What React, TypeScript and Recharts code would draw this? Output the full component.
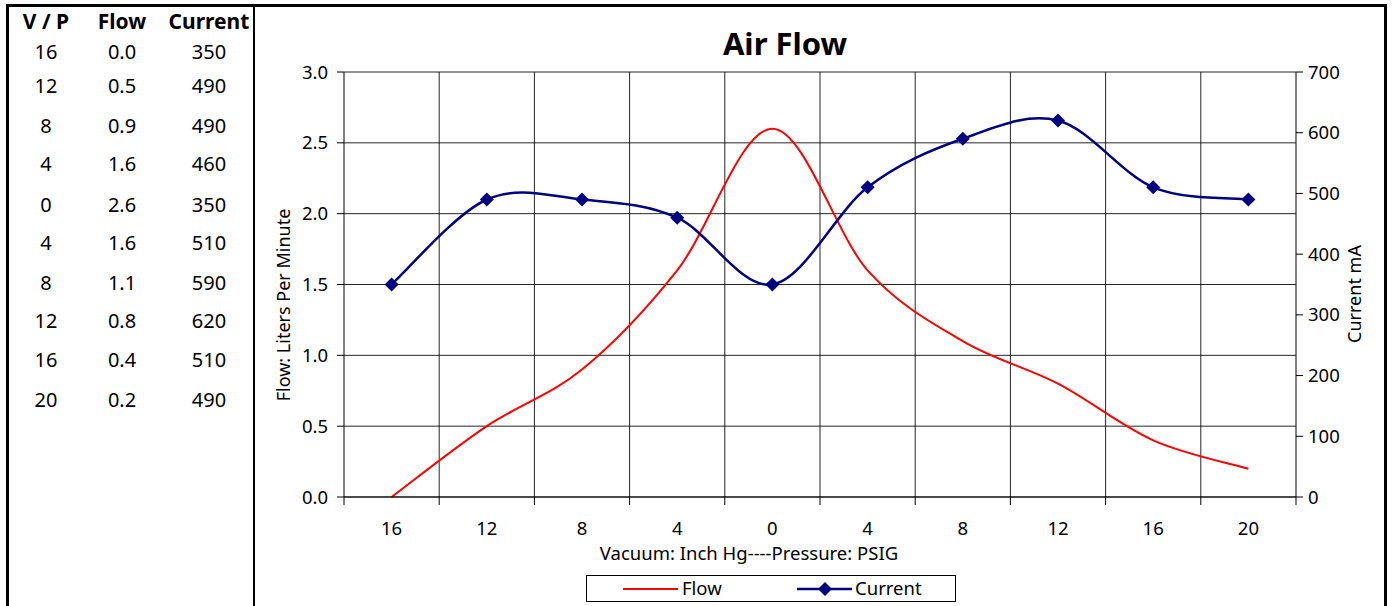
import { ComposedChart, Line, XAxis, YAxis, CartesianGrid } from "recharts";

// readings, left to right: vacuum (inch Hg) then pressure (PSIG)
const vpLabels = ["16", "12", "8", "4", "0", "4", "8", "12", "16", "20"];
const flowValues = [0.0, 0.5, 0.9, 1.6, 2.6, 1.6, 1.1, 0.8, 0.4, 0.2];
const currentValues = [350, 490, 490, 460, 350, 510, 590, 620, 510, 490];

const flowTicks = [0, 0.5, 1, 1.5, 2, 2.5, 3];
const currentTicks = [0, 100, 200, 300, 400, 500, 600, 700];

// row tops for the side table (header first)
const rowTops = [7, 38, 72, 112, 150, 191, 229, 269, 307, 346, 386];

const FONT = "'Noto Sans', 'DejaVu Sans', sans-serif";
const PLOT_LEFT = 344;
const PLOT_RIGHT = 1296;
const PLOT_BOTTOM = 497;
const BAND = (PLOT_RIGHT - PLOT_LEFT) / vpLabels.length;

const data = vpLabels.map((vp, i) => ({
  pos: i,
  vp,
  flow: flowValues[i],
  current: currentValues[i],
}));

/** Excel-style smoothed line (Catmull-Rom through every point). */
function excelSmooth(context: any) {
  let pts: number[][] = [];
  return {
    areaStart() {},
    areaEnd() {},
    lineStart() {
      pts = [];
    },
    lineEnd() {
      const n = pts.length;
      if (!n) return;
      context.moveTo(pts[0][0], pts[0][1]);
      for (let i = 0; i < n - 1; i++) {
        const p0 = pts[Math.max(i - 1, 0)];
        const p1 = pts[i];
        const p2 = pts[i + 1];
        const p3 = pts[Math.min(i + 2, n - 1)];
        context.bezierCurveTo(
          p1[0] + (p2[0] - p0[0]) / 6,
          p1[1] + (p2[1] - p0[1]) / 6,
          p2[0] - (p3[0] - p1[0]) / 6,
          p2[1] - (p3[1] - p1[1]) / 6,
          p2[0],
          p2[1]
        );
      }
    },
    point(x: number, y: number) {
      pts.push([x, y]);
    },
  };
}

function Diamond({ cx, cy, index }: any) {
  if (cx == null || cy == null) return <g key={`d-${index}`} />;
  const r = 7;
  return (
    <polygon
      key={`d-${index}`}
      points={`${cx},${cy - r} ${cx + r},${cy} ${cx},${cy + r} ${cx - r},${cy}`}
      fill="#000080"
    />
  );
}

function XTick({ x, payload, index }: any) {
  const left = x - BAND / 2;
  return (
    <g>
      <line x1={left} x2={left} y1={PLOT_BOTTOM} y2={PLOT_BOTTOM + 8} stroke="#000" />
      {index === vpLabels.length - 1 && (
        <line x1={x + BAND / 2} x2={x + BAND / 2} y1={PLOT_BOTTOM} y2={PLOT_BOTTOM + 8} stroke="#000" />
      )}
      <text x={x} y={PLOT_BOTTOM + 38} textAnchor="middle" fill="#000" fontSize={18.5} fontFamily={FONT}>
        {vpLabels[payload.value]}
      </text>
    </g>
  );
}

export default function App() {
  const cell = (text: string, left: number, bold = false) => (
    <div
      style={{
        position: "absolute",
        left: left - 60,
        width: 120,
        textAlign: "center",
        fontWeight: bold ? 700 : 400,
      }}
    >
      {text}
    </div>
  );

  return (
    <div
      style={{
        position: "absolute",
        left: 0,
        top: 0,
        width: 1392,
        height: 606,
        overflow: "hidden",
        background: "#fff",
        fontFamily: FONT,
        color: "#000",
      }}
    >
      {/* frame */}
      <div style={{ position: "absolute", left: 6, top: 4, width: 1381, height: 620, border: "3px solid #000", boxSizing: "border-box" }} />
      <div style={{ position: "absolute", left: 253, top: 4, width: 2, height: 620, background: "#000" }} />

      {/* side table */}
      <div style={{ position: "absolute", left: 0, top: 0, width: 255, fontSize: 20, lineHeight: "28px" }}>
        <div style={{ position: "absolute", top: rowTops[0], left: 0, width: 255, fontSize: 21 }}>
          {cell("V / P", 46, true)}
          {cell("Flow", 122, true)}
          {cell("Current", 209, true)}
        </div>
        {vpLabels.map((vp, i) => (
          <div key={i} style={{ position: "absolute", top: rowTops[i + 1], left: 0, width: 255 }}>
            {cell(vp, 46)}
            {cell(flowValues[i].toFixed(1), 122)}
            {cell(String(currentValues[i]), 209)}
          </div>
        ))}
      </div>

      {/* title */}
      <div style={{ position: "absolute", left: 635, width: 300, top: 22, textAlign: "center", fontSize: 31, fontWeight: 700 }}>
        Air Flow
      </div>

      <div style={{ position: "absolute", left: 0, top: 0 }}>
        <ComposedChart
          width={1392}
          height={606}
          data={data}
          margin={{ top: 72, right: 36, bottom: 79, left: 284 }}
        >
          <CartesianGrid
            yAxisId="left"
            stroke="#000"
            strokeOpacity={0.85}
            verticalCoordinatesGenerator={({ offset }: any) =>
              vpLabels.map((_, i) => offset.left + (i + 1) * (offset.width / vpLabels.length)).slice(0, -1)
            }
          />
          <XAxis
            dataKey="pos"
            type="category"
            scale="band"
            height={30}
            axisLine={{ stroke: "#000" }}
            tickLine={false}
            tick={<XTick />}
            interval={0}
          />
          <YAxis
            yAxisId="left"
            width={60}
            domain={[0, 3]}
            ticks={flowTicks}
            tickFormatter={(v: number) => v.toFixed(1)}
            axisLine={{ stroke: "#000" }}
            tickLine={{ stroke: "#000" }}
            tickSize={7}
            tickMargin={9}
            tick={{ fill: "#000", fontSize: 18.5, fontFamily: FONT }}
          />
          <YAxis
            yAxisId="right"
            orientation="right"
            width={60}
            domain={[0, 700]}
            ticks={currentTicks}
            axisLine={{ stroke: "#000" }}
            tickLine={{ stroke: "#000" }}
            tickSize={7}
            tickMargin={5}
            tick={{ fill: "#000", fontSize: 18.5, fontFamily: FONT }}
          />
          <Line
            yAxisId="left"
            dataKey="flow"
            type={excelSmooth as any}
            stroke="#ff0000"
            strokeWidth={2}
            dot={false}
            activeDot={false}
            isAnimationActive={false}
          />
          <Line
            yAxisId="right"
            dataKey="current"
            type={excelSmooth as any}
            stroke="#000080"
            strokeWidth={2.5}
            dot={<Diamond />}
            activeDot={false}
            isAnimationActive={false}
          />
        </ComposedChart>
      </div>

      {/* axis titles */}
      <div style={{ position: "absolute", left: 283 - 150, top: 305 - 12, width: 300, textAlign: "center", fontSize: 18, lineHeight: "24px", transform: "rotate(-90deg)" }}>
        Flow: Liters Per Minute
      </div>
      <div style={{ position: "absolute", left: 1354 - 150, top: 294 - 12, width: 300, textAlign: "center", fontSize: 18, lineHeight: "24px", transform: "rotate(-90deg)" }}>
        Current mA
      </div>
      <div style={{ position: "absolute", left: 549, top: 541, width: 400, textAlign: "center", fontSize: 18.5, lineHeight: "24px" }}>
        Vacuum: Inch Hg----Pressure: PSIG
      </div>

      {/* legend */}
      <div style={{ position: "absolute", left: 586, top: 575, width: 370, height: 27, border: "1px solid #000", boxSizing: "border-box", fontSize: 18.5 }}>
        <svg style={{ position: "absolute", left: 36, top: 6 }} width={56} height={14}>
          <line x1={0} x2={55} y1={7} y2={7} stroke="#ff0000" strokeWidth={2} />
        </svg>
        <div style={{ position: "absolute", left: 95, top: 0, lineHeight: "24px" }}>Flow</div>
        <svg style={{ position: "absolute", left: 210, top: 4 }} width={56} height={18}>
          <line x1={0} x2={55} y1={9} y2={9} stroke="#000080" strokeWidth={2.5} />
          <polygon points="28,2 35,9 28,16 21,9" fill="#000080" />
        </svg>
        <div style={{ position: "absolute", left: 268, top: 0, lineHeight: "24px" }}>Current</div>
      </div>
    </div>
  );
}
